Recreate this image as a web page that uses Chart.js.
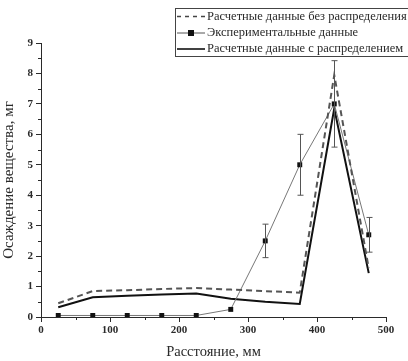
<!DOCTYPE html>
<html>
<head>
<meta charset="utf-8">
<script src="https://cdn.jsdelivr.net/npm/chart.js@4/dist/chart.umd.min.js"></script>
<style>
  html, body { margin: 0; padding: 0; background: #fff; }
  #wrap { width: 408px; height: 361px; }
</style>
</head>
<body>
<div id="wrap"><canvas id="c" width="408" height="361"></canvas></div>
<script>
// Distance along the sample, mm
const distances = [25, 75, 125, 175, 225, 275, 325, 375, 425, 475];
// Calculated deposition without distribution, mg
const calcNoDist = [0.45, 0.85, 0.88, 0.92, 0.95, 0.9, 0.85, 0.8, 7.95, 1.6];
// Experimental deposition, mg, with error half-widths
const experimental = [0.05, 0.05, 0.05, 0.05, 0.05, 0.25, 2.5, 5.0, 7.0, 2.7];
const expError = [0, 0, 0, 0, 0, 0, 0.55, 1.0, 1.42, 0.57];
// Calculated deposition with distribution, mg
const calcWithDist = [0.32, 0.65, 0.7, 0.74, 0.77, 0.6, 0.5, 0.43, 6.85, 1.44];

const xTicks = [0, 100, 200, 300, 400, 500];
const yTicks = [0, 1, 2, 3, 4, 5, 6, 7, 8, 9];

const legendLabels = [
  'Расчетные данные без распределения',
  'Экспериментальные данные',
  'Расчетные данные с распределением'
];

const SERIF = '"Liberation Serif", "DejaVu Serif", serif';
const INK = '#2a2a2a';

const toXY = (ys) => distances.map((x, i) => ({ x, y: ys[i] }));

// Error bars for the experimental series
const errorBars = {
  id: 'errorBars',
  afterDatasetsDraw(chart) {
    const { ctx, scales: { x, y } } = chart;
    ctx.save();
    ctx.strokeStyle = '#555';
    ctx.lineWidth = 1;
    distances.forEach((d, i) => {
      const e = expError[i];
      if (!e) return;
      const px = Math.round(x.getPixelForValue(d)) + 0.5;
      const top = y.getPixelForValue(experimental[i] + e);
      const bot = y.getPixelForValue(experimental[i] - e);
      ctx.beginPath();
      ctx.moveTo(px, top); ctx.lineTo(px, bot);
      ctx.moveTo(px - 3, top); ctx.lineTo(px + 3, top);
      ctx.moveTo(px - 3, bot); ctx.lineTo(px + 3, bot);
      ctx.stroke();
    });
    ctx.restore();
  }
};

// Minor ticks between the labelled ones
const minorTicks = {
  id: 'minorTicks',
  afterDraw(chart) {
    const { ctx, scales: { x, y } } = chart;
    ctx.save();
    ctx.strokeStyle = INK;
    ctx.lineWidth = 1;
    ctx.beginPath();
    for (let v = 50; v < 500; v += 100) {
      const px = Math.round(x.getPixelForValue(v)) + 0.5;
      ctx.moveTo(px, y.bottom); ctx.lineTo(px, y.bottom + 3);
    }
    for (let v = 0.5; v < 9; v += 1) {
      const py = Math.round(y.getPixelForValue(v)) + 0.5;
      ctx.moveTo(x.left, py); ctx.lineTo(x.left - 3, py);
    }
    ctx.stroke();
    ctx.restore();
  }
};

// Framed legend in the upper right corner
const boxLegend = {
  id: 'boxLegend',
  afterDraw(chart) {
    const { ctx } = chart;
    const left = 175, top = 8, right = 408, bottom = 57;
    ctx.save();
    ctx.fillStyle = '#fff';
    ctx.fillRect(left, top, right - left, bottom - top);
    ctx.strokeStyle = '#444';
    ctx.lineWidth = 1;
    ctx.strokeRect(left + 0.5, top + 0.5, right - left + 4, bottom - top - 1);
    const rows = [16.5, 33, 49];
    const x0 = 177, x1 = 205;
    ctx.lineWidth = 1.6;
    // dashed
    ctx.strokeStyle = '#444';
    ctx.setLineDash([4, 4]);
    ctx.beginPath(); ctx.moveTo(x0, rows[0]); ctx.lineTo(x1, rows[0]); ctx.stroke();
    ctx.setLineDash([]);
    // experimental
    ctx.strokeStyle = '#555';
    ctx.lineWidth = 1;
    ctx.beginPath(); ctx.moveTo(x0, rows[1]); ctx.lineTo(x1, rows[1]); ctx.stroke();
    ctx.fillStyle = '#111';
    ctx.fillRect((x0 + x1) / 2 - 3, rows[1] - 3, 6, 6);
    // solid
    ctx.strokeStyle = '#111';
    ctx.lineWidth = 1.6;
    ctx.beginPath(); ctx.moveTo(x0, rows[2]); ctx.lineTo(x1, rows[2]); ctx.stroke();
    ctx.fillStyle = INK;
    ctx.font = '12.5px ' + SERIF;
    ctx.textBaseline = 'middle';
    ctx.textAlign = 'left';
    legendLabels.forEach((t, i) => ctx.fillText(t, x1 + 2, rows[i]));
    ctx.restore();
  }
};

new Chart(document.getElementById('c'), {
  type: 'line',
  data: {
    datasets: [
      {
        label: legendLabels[0],
        data: toXY(calcNoDist),
        borderColor: '#555',
        borderWidth: 2,
        borderDash: [6, 4],
        pointRadius: 0,
        tension: 0
      },
      {
        label: legendLabels[1],
        data: toXY(experimental),
        borderColor: '#777',
        borderWidth: 1,
        pointStyle: 'rect',
        pointRadius: 3.5,
        pointBackgroundColor: '#111',
        pointBorderColor: '#111',
        pointBorderWidth: 0,
        tension: 0
      },
      {
        label: legendLabels[2],
        data: toXY(calcWithDist),
        borderColor: '#111',
        borderWidth: 2,
        pointRadius: 0,
        tension: 0
      }
    ]
  },
  options: {
    responsive: false,
    animation: false,
    devicePixelRatio: 1,
    layout: { padding: { top: 43, right: 22, left: 0, bottom: 0 } },
    plugins: {
      legend: { display: false },
      tooltip: { enabled: false }
    },
    scales: {
      x: {
        type: 'linear',
        min: 0, max: 500,
        afterFit(s) { s.height = 44; },
        afterBuildTicks(s) { s.ticks = xTicks.map(v => ({ value: v })); },
        border: { display: true, color: INK, width: 1 },
        grid: { drawOnChartArea: false, drawTicks: true, tickLength: 5, color: INK },
        ticks: {
          color: INK,
          font: { family: SERIF, size: 11, weight: 'bold' },
          padding: 2,
          maxRotation: 0
        },
        title: {
          display: true,
          text: 'Расстояние, мм',
          color: INK,
          font: { family: SERIF, size: 14.5 },
          padding: { top: 3, bottom: 0 }
        }
      },
      y: {
        type: 'linear',
        min: 0, max: 9,
        afterFit(s) { s.width = 41; },
        afterBuildTicks(s) { s.ticks = yTicks.map(v => ({ value: v })); },
        border: { display: true, color: INK, width: 1 },
        grid: { drawOnChartArea: false, drawTicks: true, tickLength: 5, color: INK },
        ticks: {
          color: INK,
          font: { family: SERIF, size: 11, weight: 'bold' },
          padding: 3
        },
        title: {
          display: true,
          text: 'Осаждение вещества, мг',
          color: INK,
          font: { family: SERIF, size: 15 },
          padding: { top: 0, bottom: 0 }
        }
      }
    }
  },
  plugins: [errorBars, minorTicks, boxLegend]
});
</script>
</body>
</html>
